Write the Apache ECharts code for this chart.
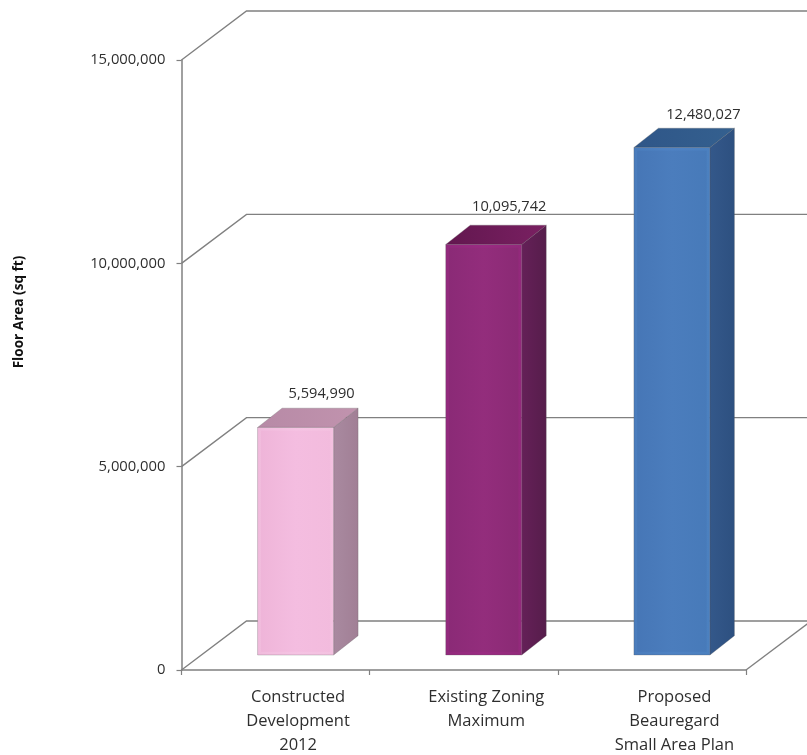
<!DOCTYPE html>
<html>
<head>
<meta charset="utf-8">
<style>html,body{margin:0;padding:0;background:#fff}#c{width:807px;height:755px}</style>
<script src="https://cdn.jsdelivr.net/npm/echarts@6/dist/echarts.min.js"></script>
</head>
<body>
<div id="c"></div>
<script>
const categories = ['Constructed\nDevelopment\n2012', 'Existing Zoning\nMaximum', 'Proposed\nBeauregard\nSmall Area Plan'];
const floorArea = [5594990, 10095742, 12480027];
const wallTicks = [0, 5000000, 10000000, 15000000];
const axisTitle = 'Floor Area (sq ft)';

const frontColors = [['#eeb4d8', '#f4bde0', '#f2bbdd'], ['#8a2a76', '#932d7c', '#8a2a74'], ['#4676b6', '#4b7dbd', '#477ab9']];
const topColors = [['#b78aa6', '#c193ae'], ['#62174f', '#7a2062'], ['#2f5688', '#34608f']];
const sideColors = [['#a98aa0', '#a17f95'], ['#652058', '#561d4b'], ['#34588a', '#2d5080']];
const rimColors = ['rgba(255,235,250,0.14)', 'rgba(190,40,160,0.16)', 'rgba(110,170,240,0.12)'];

const wallDx = 65, wallDy = -49;          // perspective of the walls
const barInsetX = 20, barInsetY = -15;    // bar front sits inside the floor
const barDepthX = 24.5, barDepthY = -19.3;
const barWidth = 76;
const labelShift = [[26, -14.5], [25.5, -18.5], [31.5, -13]];
const lineColor = '#808080';
const textColor = '#2e2e2e';

const fmt = v => v.toLocaleString('en-US');
const grad = (x2, y2, stops) => ({type: 'linear', x: 0, y: 0, x2, y2,
  colorStops: stops.map((c, i) => ({offset: i / (stops.length - 1), color: c}))});

const chart = echarts.init(document.getElementById('c'), null, {renderer: 'canvas'});

chart.setOption({
  animation: false,
  backgroundColor: '#fff',
  textStyle: {fontFamily: '"Open Sans", sans-serif'},
  grid: {left: 181.5, top: 60, width: 564.5, height: 610, containLabel: false, outerBoundsMode: 'none'},
  graphic: [{
    type: 'text', x: 19, y: 312, rotation: Math.PI / 2, z: 5,
    style: {text: axisTitle, font: 'bold 13.6px "Open Sans", sans-serif', fill: '#111', align: 'center', verticalAlign: 'middle'}
  }],
  xAxis: {
    type: 'category', data: categories,
    axisLine: {lineStyle: {color: lineColor, width: 1.5}},
    axisTick: {show: true, length: 5, alignWithLabel: false, lineStyle: {color: lineColor, width: 1.2}},
    axisLabel: {color: textColor, fontSize: 16.5, lineHeight: 24, margin: 15.5, padding: [0, 0, 0, 45], interval: 0, align: 'center'}
  },
  yAxis: {
    type: 'value', min: 0, max: 15000000, interval: 5000000,
    axisLine: {show: true, lineStyle: {color: lineColor, width: 1.5}},
    axisTick: {show: true, length: 5, lineStyle: {color: lineColor, width: 1.2}},
    axisLabel: {color: textColor, fontSize: 14.8, margin: 16, formatter: v => fmt(v)},
    splitLine: {show: false}
  },
  series: [{
    type: 'custom', z: 1, silent: true, coordinateSystem: 'cartesian2d',
    data: wallTicks.map(v => [0, v]),
    renderItem(params, api) {
      const left = params.coordSys.x;
      const y = api.coord([0, api.value(1)])[1];
      return {
        type: 'polyline',
        shape: {points: [[left, y], [left + wallDx, y + wallDy], [830, y + wallDy]]},
        style: {stroke: lineColor, lineWidth: 1.4, fill: 'none'}
      };
    }
  }, {
    type: 'custom', z: 1, silent: true, coordinateSystem: 'cartesian2d',
    data: [[0, 0]],
    renderItem(params, api) {
      const right = params.coordSys.x + params.coordSys.width;
      const y = api.coord([0, 0])[1];
      return {
        type: 'line',
        shape: {x1: right, y1: y, x2: right + wallDx, y2: y + wallDy},
        style: {stroke: lineColor, lineWidth: 1.4}
      };
    }
  }, {
    type: 'custom', z: 3, silent: true, coordinateSystem: 'cartesian2d',
    data: floorArea.map((v, i) => [i, v]),
    renderItem(params, api) {
      const i = params.dataIndex;
      const base = api.coord([i, 0]);
      const top = api.coord([i, api.value(1)]);
      const xL = base[0] + barInsetX - barWidth / 2;
      const xR = xL + barWidth;
      const yB = base[1] + barInsetY;
      const yT = top[1] + barInsetY;
      const edge = 'rgba(90,90,90,0.45)';
      return {
        type: 'group',
        children: [{
          type: 'polygon',
          shape: {points: [[xR, yB], [xR + barDepthX, yB + barDepthY], [xR + barDepthX, yT + barDepthY], [xR, yT]]},
          style: {fill: grad(1, 0, sideColors[i]), stroke: edge, lineWidth: 0.6}
        }, {
          type: 'polygon',
          shape: {points: [[xL, yT], [xL + barDepthX, yT + barDepthY], [xR + barDepthX, yT + barDepthY], [xR, yT]]},
          style: {fill: grad(1, 0, topColors[i]), stroke: edge, lineWidth: 0.6}
        }, {
          type: 'rect',
          shape: {x: xL, y: yT, width: barWidth, height: yB - yT},
          style: {fill: grad(1, 0, frontColors[i]), stroke: edge, lineWidth: 0.6}
        }, {
          type: 'rect',
          shape: {x: xL + 1.8, y: yT + 1.8, width: barWidth - 3.6, height: yB - yT - 3.6},
          style: {fill: 'none', stroke: rimColors[i], lineWidth: 3}
        }, {
          type: 'text',
          x: (xL + xR) / 2 + labelShift[i][0],
          y: yT + barDepthY + labelShift[i][1],
          style: {text: fmt(api.value(1)), font: '14.6px "Open Sans", sans-serif', fill: textColor, align: 'center', verticalAlign: 'middle'}
        }]
      };
    }
  }]
});
</script>
</body>
</html>
